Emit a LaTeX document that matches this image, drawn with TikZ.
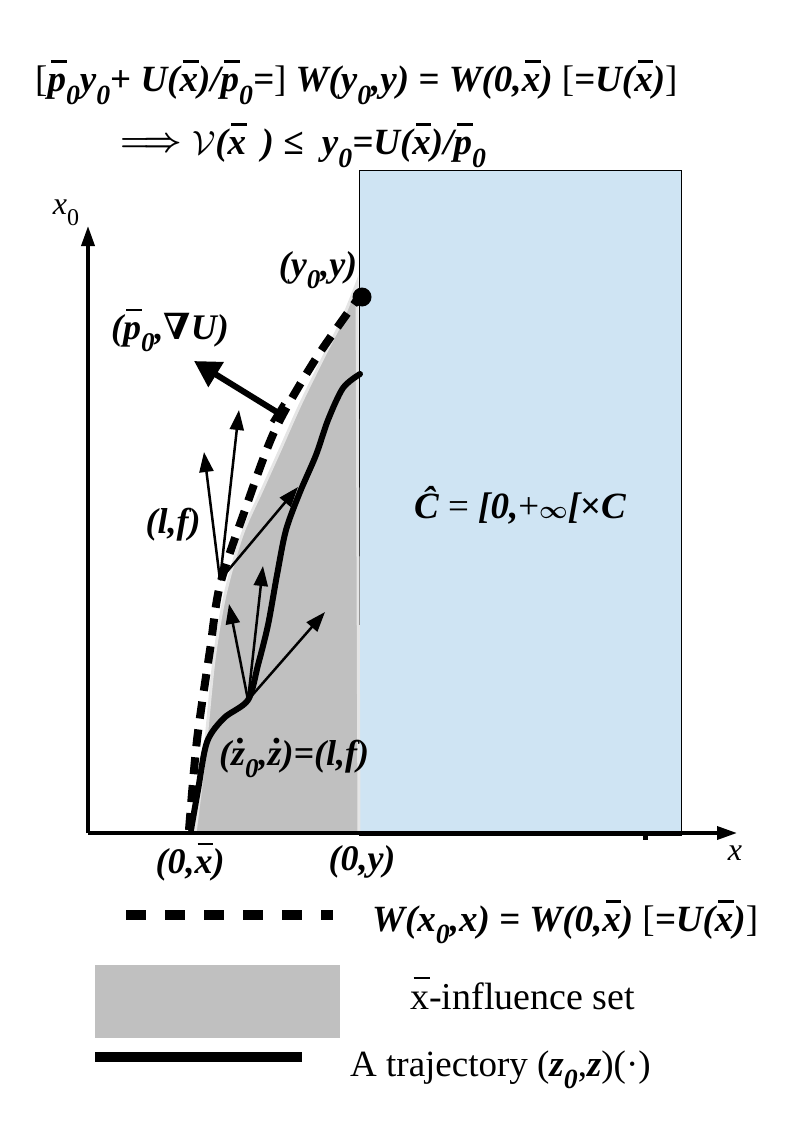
\documentclass[tikz,border=0pt]{standalone}
\usepackage{fontspec}
\setmainfont{Liberation Serif}
\newfontfamily\dejavu{DejaVu Serif}
\usetikzlibrary{arrows.meta}
\newcommand\ob[1]{\setbox0=\hbox{#1}\rlap{\hspace{0.09em}\raisebox{0.78em}{\rule{0.85\wd0}{0.075em}}}\box0}
\newcommand\lo[1]{\raisebox{-0.33em}{\scalebox{0.75}{#1}}}
\newcommand\up[1]{{\upshape\mdseries #1}}
\newcommand\bm[1]{\mbox{\boldmath$#1$}}
\newcommand\zdot{\rlap{\hspace{0.16em}\raisebox{0.6em}{.}}z}
\definecolor{cblue}{RGB}{207,228,243}
\definecolor{cgray}{RGB}{192,192,192}
\begin{document}
\begin{tikzpicture}[x=1pt,y=-1pt,
  bi/.style={font=\fontsize{36}{40}\selectfont\bfseries\itshape, inner sep=0pt},
  big/.style={font=\fontsize{37}{42}\selectfont\bfseries\itshape, inner sep=0pt},
  rm/.style={font=\fontsize{37}{42}\selectfont, inner sep=0pt},
  axis/.style={line width=3.5pt, -{Triangle[length=20pt,width=13pt]}},
  traj/.style={line width=6pt, line cap=round},
  bound/.style={line width=8pt, dash pattern=on 17pt off 11pt},
  vel/.style={line width=2.5pt, -{Triangle[length=20pt,width=14pt]}},
  normal/.style={line width=6pt, {Bar[width=22pt,line width=5pt]}-{Triangle[length=26pt,width=28pt]}}
]
\useasboundingbox (0,0) rectangle (794,1123);

% constraint set
\node[draw=black, line width=0.8pt, fill=cblue, minimum width=322pt, minimum height=665pt, inner sep=0pt, anchor=north west] (Cset) at (359,170) {};

% influence set
\fill[cgray, draw=gray!20, line width=3pt] (195,833) -- plot[smooth] coordinates {(195,833) (204,760) (214,660) (225,595) (242,535) (262,490) (280,450) (300,405) (322,360) (342,320) (357,283)} -- (359,833) -- cycle;

% axes
\coordinate (O) at (88,833);
\coordinate (Xend) at (737,833);
\coordinate (Yend) at (88,226);
\draw[axis] (O) -- (Xend);
\draw[axis] (O) -- (Yend);
\fill (643,833) rectangle (648,840);
\node[font=\fontsize{32}{36}\selectfont\itshape, inner sep=0pt] (xlab) at (735,853) {x};
\node[font=\fontsize{32}{36}\selectfont\itshape, inner sep=0pt] (x0lab) at (66,213) {x\lo{\upshape 0}};

% boundary W = const (dashed)
\draw[bound] plot[smooth] coordinates {(189,830) (197,740) (210,650) (220,585) (245,510) (275,430) (315,360) (357,300)};

% trajectory
\draw[traj] plot[smooth] coordinates {(191,830) (198,790) (207,742) (224,718) (248,700) (258,665) (268,625) (277,575) (286,530) (300,492) (316,455) (328,420) (343,388) (360,374)};

% endpoint
\node[circle, fill=black, minimum size=19pt, inner sep=0pt] (P) at (362,297) {};

% normal vector
\coordinate (Nbase) at (280,414);
\coordinate (Ntip) at (194,361);
\draw[normal] (Nbase) -- (Ntip);

% velocity fan on the boundary
\coordinate (A) at (220,580);
\coordinate (A1) at (204,452);
\coordinate (A2) at (239,410);
\coordinate (A3) at (298,487);
\draw[vel] (A) -- (A1);
\draw[vel] (A) -- (A2);
\draw[vel] (A) -- (A3);

% velocity fan on the trajectory
\coordinate (B) at (248,700);
\coordinate (B1) at (229,604);
\coordinate (B2) at (263,566);
\coordinate (B3) at (325,612);
\draw[vel] (B) -- (B1);
\draw[vel] (B) -- (B2);
\draw[vel] (B) -- (B3);

% labels
\node[big, anchor=base west] (t1) at (35,92) {\up{[}\ob{p}\lo{0}y\lo{0}\up{\textbf{+}} U(\ob{x})/\ob{p}\lo{0}=\up{]} W(y\lo{0},y) = W(0,\ob{x}) \up{[}=U(\ob{x})\up{]}};
\node[big, anchor=base west] (t2) at (120,155) {\raisebox{0.1em}{\scalebox{1.35}{\bm{\Longrightarrow}}}\;\scalebox{1.35}{$\mathcal{V}$}(\ob{x}\ \,) ≤\ \ y\lo{0}=U(\ob{x})/\ob{p}\lo{0}};
\node[bi] (lp) at (170,330) {(\ob{p}\lo{0},{\dejavu\bfseries\upshape ∇}U)};
\node[bi] (ly) at (318,270) {(y\lo{0},y)};
\node[bi] (llf) at (173,525) {(l,f)};
\node[bi] (lzd) at (294,758) {(\zdot\lo{0},\zdot)=(l,f)};
\node[bi] (l0x) at (190,862) {(0,\ob{x})};
\node[bi] (l0y) at (362,862) {(0,y)};
\node[big] (lC) at (520,505) {\^C\up{ = }[0,\up{+}\bm{\infty}[{\upshape ×}C};

% legend
\coordinate (L1a) at (126,915);
\coordinate (L1b) at (333,915);
\draw[line width=10pt, dash pattern=on 20pt off 19pt] (L1a) -- (L1b);
\node[big, anchor=west] (leg1) at (372,922) {W(x\lo{0},x) = W(0,\ob{x}) \up{[}=U(\ob{x})\up{]}};
\node[fill=cgray, minimum width=245pt, minimum height=73pt, inner sep=0pt, anchor=north west] (leg2box) at (95,965) {};
\node[font=\fontsize{38}{43}\selectfont, inner sep=0pt, anchor=west] (leg2) at (410,993) {\ob{x}-influence set};
\coordinate (L3a) at (95,1057);
\coordinate (L3b) at (302,1057);
\draw[line width=10pt] (L3a) -- (L3b);
\node[rm, anchor=west] (leg3) at (350,1070) {A trajectory (\textbf{\textit{z\lo{0}}},\textbf{\textit{z}})(·)};
\end{tikzpicture}
\end{document}
